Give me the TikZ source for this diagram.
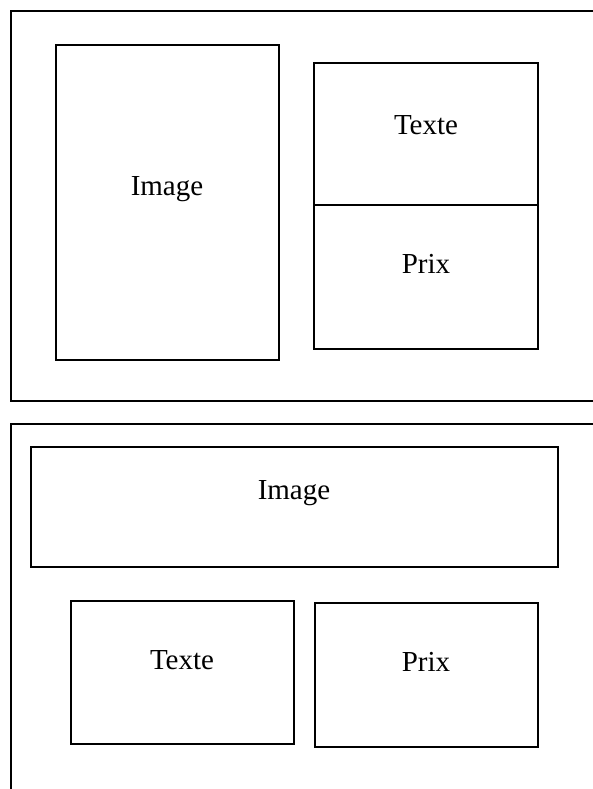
\documentclass[tikz,border=0pt]{standalone}
\usepackage{fontspec}
\setmainfont{Liberation Serif}
\begin{document}
\begin{tikzpicture}[x=1pt,y=-1pt,
  box/.style={draw=black,line width=1.6pt},
  lbl/.style={font=\fontsize{29}{32}\selectfont}]
\useasboundingbox (0,0) rectangle (593,789);
% frames
\draw[box] (600,11) -- (11,11) -- (11,401) -- (600,401);
\draw[box] (600,424) -- (11,424) -- (11,800);
% top layout
\draw[box] (56,45) rectangle (279,360);
\node[lbl] (img1) at (167,189) {Image};
\draw[box] (314,63) rectangle (538,349);
\draw[box] (314,205) -- (538,205);
\node[lbl] (txt1) at (426,125) {Texte};
\node[lbl] (prx1) at (426,264) {Prix};
% bottom layout
\draw[box] (31,447) rectangle (558,567);
\node[lbl] (img2) at (294,493) {Image};
\draw[box] (71,601) rectangle (294,744);
\node[lbl] (txt2) at (182,660) {Texte};
\draw[box] (315,603) rectangle (538,747);
\node[lbl] (prx2) at (426,662) {Prix};
\end{tikzpicture}
\end{document}
